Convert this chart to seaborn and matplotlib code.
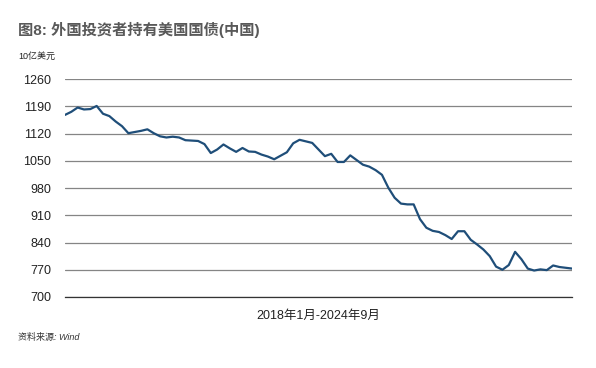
import numpy as np
import pandas as pd
import matplotlib
matplotlib.use("Agg")
import matplotlib.pyplot as plt
import seaborn as sns

# China holdings of US Treasuries, Jan 2018 - Sep 2024 (billion USD)
holdings = [
    1168, 1176, 1187, 1182, 1183, 1191, 1171, 1165, 1151, 1139, 1121, 1124,   # 2018
    1127, 1131, 1121, 1113, 1110, 1112, 1110, 1103, 1102, 1101, 1093, 1070,   # 2019
    1079, 1092, 1082, 1073, 1083, 1074, 1073, 1066, 1061, 1054, 1063, 1072,   # 2020
    1095, 1104, 1100, 1096, 1079, 1062, 1068, 1047, 1047, 1064, 1052, 1040,   # 2021
    1035, 1026, 1014, 981, 955, 940, 938, 938, 900, 878, 870, 867,            # 2022
    859, 849, 869, 869, 847, 835, 822, 805, 778, 770, 782, 816,               # 2023
    797, 773, 768, 771, 769, 781, 777, 775, 773,                              # 2024
]
months = pd.date_range("2018-01", periods=len(holdings), freq="MS")
y_ticks = [700, 770, 840, 910, 980, 1050, 1120, 1190, 1260]

title = "图8: 外国投资者持有美国国债(中国)"
unit = "10亿美元"
x_label = "2018年1月-2024年9月"
source = "资料来源: Wind"

df = pd.DataFrame({"idx": np.arange(len(holdings)), "value": holdings, "month": months})

sns.set_style("white")
plt.rcParams["font.family"] = ["Liberation Sans", "Noto Sans CJK SC", "DejaVu Sans"]

fig = plt.figure(figsize=(5.96, 3.68), dpi=100)
ax = fig.add_axes([0.109, 0.193, 0.851, 0.592])

sns.lineplot(data=df, x="idx", y="value", ax=ax, color="#1f4e79", linewidth=1.6)

ax.set_ylim(700, 1260)
ax.set_yticks(y_ticks)
ax.set_xlim(0, len(holdings) - 1)
ax.set_xticks(np.arange(0, len(holdings), 2))
ax.set_xticklabels([])
ax.yaxis.grid(True, color="#858585", linewidth=0.9)
ax.set_axisbelow(True)

for s in ["top", "right", "left"]:
    ax.spines[s].set_visible(False)
ax.spines["bottom"].set_color("#333333")
ax.spines["bottom"].set_linewidth(0.9)
ax.tick_params(axis="y", length=0, labelsize=9, colors="#222222", pad=10)
ax.tick_params(axis="x", length=3, width=0.8, direction="out", colors="#333333")

ax.set_xlabel(x_label, fontsize=9, color="#222222", labelpad=3)
ax.set_ylabel("")

fig.text(0.030, 0.918, title, fontsize=11, fontweight="bold", color="#595959",
         va="center", ha="left")
fig.text(0.030, 0.848, unit, fontsize=6.5, color="#222222", va="center", ha="left")
fig.text(0.030, 0.084, source, fontsize=6.5, color="#333333", style="italic",
         va="center", ha="left")

fig.savefig("out.png", dpi=100)
